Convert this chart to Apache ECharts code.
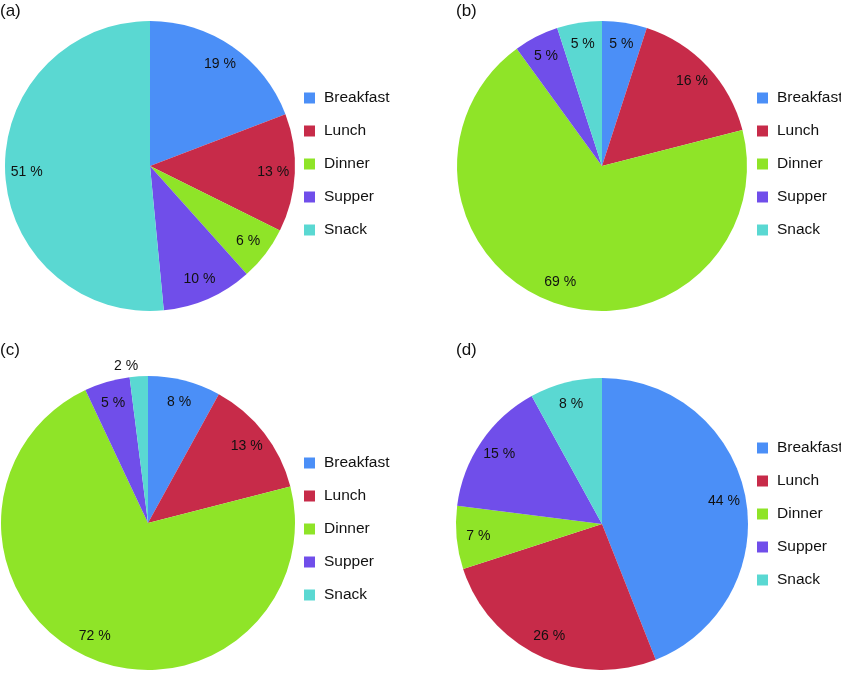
<!DOCTYPE html>
<html>
<head>
<meta charset="utf-8">
<script src="https://cdn.jsdelivr.net/npm/echarts@6/dist/echarts.min.js"></script>
<style>
html,body{margin:0;padding:0;background:#fff;}
#chart{width:841px;height:673px;}
</style>
</head>
<body>
<div id="chart"></div>
<script>
var categories = ['Breakfast', 'Lunch', 'Dinner', 'Supper', 'Snack'];
var colors = ['#4B8FF7', '#C72B49', '#8FE428', '#704EEA', '#5AD8D2'];
var panelLabels = ['(a)', '(b)', '(c)', '(d)'];
var valuesA = [19, 13, 6, 10, 51];
var valuesB = [5, 16, 69, 5, 5];
var valuesC = [8, 13, 72, 5, 2];
var valuesD = [44, 26, 7, 15, 8];

var panels = [
  {vals: valuesA, cx: 150, cy: 166, r: 145, legendLeft: 304, legendTop: 90, titleLeft: 0, titleTop: 3},
  {vals: valuesB, cx: 602, cy: 166, r: 145, legendLeft: 757, legendTop: 90, titleLeft: 456, titleTop: 3},
  {vals: valuesC, cx: 148, cy: 523, r: 147, legendLeft: 304, legendTop: 455, titleLeft: 0, titleTop: 342},
  {vals: valuesD, cx: 602, cy: 524, r: 146, legendLeft: 757, legendTop: 440, titleLeft: 456, titleTop: 342}
];

var series = [];
var legends = [];
var titles = [];
panels.forEach(function (p, pi) {
  var data = categories.map(function (c, i) {
    return {name: c, value: p.vals[i], itemStyle: {color: colors[i]}};
  });
  series.push({
    type: 'pie',
    center: [p.cx, p.cy],
    radius: [0, p.r],
    startAngle: 90,
    clockwise: true,
    avoidLabelOverlap: false,
    label: {show: false},
    labelLine: {show: false},
    itemStyle: {borderWidth: 0},
    emphasis: {disabled: true},
    animation: false,
    data: data
  });
  var ghost = categories.map(function (c, i) {
    var item = {name: c, value: p.vals[i], itemStyle: {color: 'rgba(0,0,0,0)'}};
    if (pi === 2 && i === 4) {
      item.label = {position: 'outside', distanceToLabelLine: 0};
      item.labelLine = {show: false, length: 10, length2: 0};
    }
    return item;
  });
  series.push({
    type: 'pie',
    center: [p.cx, p.cy],
    radius: [p.r * 0.66, p.r],
    startAngle: 90,
    clockwise: true,
    avoidLabelOverlap: false,
    silent: true,
    legendHoverLink: false,
    label: {
      show: true,
      position: 'inside',
      formatter: function (d) { return d.value + ' %'; },
      color: '#111',
      fontSize: 14,
      fontFamily: 'Liberation Sans, Arial, sans-serif'
    },
    labelLine: {show: false},
    emphasis: {disabled: true},
    animation: false,
    data: ghost
  });
  legends.push({
    left: p.legendLeft,
    top: p.legendTop,
    padding: 0,
    orient: 'vertical',
    icon: 'rect',
    itemWidth: 11,
    itemHeight: 11,
    itemGap: 17,
    textStyle: {fontSize: 15.5, color: '#111', lineHeight: 16, padding: [0, 0, 0, 4], fontFamily: 'Liberation Sans, Arial, sans-serif'},
    data: categories.map(function (c, i) { return {name: c, itemStyle: {color: colors[i]}}; })
  });
  titles.push({
    text: panelLabels[pi],
    left: p.titleLeft,
    top: p.titleTop,
    padding: 0,
    textStyle: {fontSize: 17, fontWeight: 'normal', color: '#111', fontFamily: 'Liberation Sans, Arial, sans-serif'}
  });
});

var chart = echarts.init(document.getElementById('chart'));
chart.setOption({
  backgroundColor: '#fff',
  animation: false,
  title: titles,
  legend: legends,
  series: series
});
</script>
</body>
</html>
